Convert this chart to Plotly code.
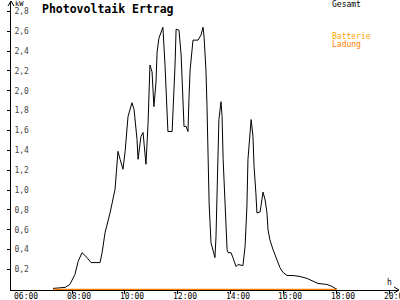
import plotly.graph_objects as go

# Data (hours as decimal, kW values)
gesamt_hours = [7.28, 7.74, 7.92, 8.11, 8.23, 8.38, 8.57, 8.72, 9.06, 9.14, 9.25, 9.44, 9.63,
                9.74, 9.82, 9.93, 10.01, 10.12, 10.27, 10.35, 10.46, 10.50, 10.61, 10.69, 10.73,
                10.80, 10.88, 10.95, 11.03, 11.10, 11.18, 11.22, 11.29, 11.44, 11.52, 11.60,
                11.63, 11.79, 11.82, 11.90, 11.94, 12.05, 12.13, 12.20, 12.24, 12.32, 12.39,
                12.43, 12.47, 12.58, 12.77, 12.88, 12.96, 13.00, 13.07, 13.11, 13.15, 13.19,
                13.26, 13.34, 13.41, 13.45, 13.49, 13.56, 13.64, 13.68, 13.72, 13.79, 13.87,
                13.91, 14.02, 14.09, 14.21, 14.28, 14.47, 14.55, 14.62, 14.66, 14.74, 14.78,
                14.85, 14.89, 14.96, 15.00, 15.12, 15.19, 15.23, 15.31, 15.38, 15.42, 15.49,
                15.61, 15.76, 15.87, 15.99, 16.14, 16.37, 16.63, 16.90, 17.12, 17.31, 17.65,
                17.84, 18.03]
gesamt_kw = [0.01, 0.02, 0.05, 0.15, 0.28, 0.37, 0.32, 0.27, 0.27, 0.37, 0.57, 0.77, 1.01,
             1.39, 1.31, 1.21, 1.39, 1.74, 1.88, 1.81, 1.51, 1.31, 1.54, 1.58, 1.46,
             1.26, 1.68, 2.26, 2.19, 1.84, 2.09, 2.39, 2.53, 2.64, 2.26, 1.86,
             1.59, 1.59, 1.76, 2.26, 2.62, 2.61, 2.36, 1.81, 1.64, 1.64, 1.59,
             1.94, 2.21, 2.51, 2.51, 2.56, 2.64, 2.54, 2.21, 1.84, 1.31, 0.87,
             0.47, 0.40, 0.32, 0.53, 1.04, 1.71, 1.89, 1.74, 1.31, 0.83, 0.40,
             0.37, 0.37, 0.32, 0.23, 0.25, 0.24, 0.43, 0.83, 1.31, 1.61, 1.71,
             1.54, 1.24, 0.97, 0.77, 0.78, 0.93, 0.98, 0.90, 0.77, 0.60, 0.50,
             0.40, 0.30, 0.22, 0.17, 0.14, 0.14, 0.13, 0.11, 0.08, 0.06, 0.05,
             0.03, 0.00]

batterie_hours = [7.28, 18.03]
batterie_kw = [0.0, 0.0]

y_ticks = [0.2, 0.4, 0.6, 0.8, 1.0, 1.2, 1.4, 1.6, 1.8, 2.0, 2.2, 2.4, 2.6, 2.8]
x_ticks = [6, 8, 10, 12, 14, 16, 18, 20]
x_ticklabels = ["06:00", "08:00", "10:00", "12:00", "14:00", "16:00", "18:00", "20:00"]

FONT = "DejaVu Sans Mono"
W, H = 400, 300
L, R, T, B = 11, 2, 2, 10
pw, ph = W - L - R, H - T - B

fig = go.Figure()
fig.add_trace(go.Scatter(x=gesamt_hours, y=gesamt_kw, mode="lines", cliponaxis=False,
                         line=dict(color="black", width=1), hoverinfo="skip"))
fig.add_trace(go.Scatter(x=batterie_hours, y=batterie_kw, mode="lines", cliponaxis=False,
                         line=dict(color="#FF8000", width=1.5), hoverinfo="skip"))

fig.update_layout(
    width=W, height=H,
    margin=dict(l=L, r=R, t=T, b=B, pad=0),
    paper_bgcolor="white", plot_bgcolor="white",
    showlegend=False,
    separators=",.",
    font=dict(family=FONT, size=8, color="black"),
    xaxis=dict(range=[5.691, 20.339], tickvals=x_ticks, ticktext=[""] * len(x_ticks),
               showgrid=False, zeroline=False, showline=True, linecolor="black", linewidth=1,
               ticks="outside", ticklen=3, tickcolor="black", tickwidth=1,
               layer="below traces", automargin=False, fixedrange=True),
    yaxis=dict(range=[-0.006, 2.894], tickvals=y_ticks, tickformat=".1f",
               showgrid=False, zeroline=False, showline=True, linecolor="black", linewidth=1,
               ticks="outside", ticklen=3, tickcolor="black", tickwidth=1,
               ticklabelposition="inside", ticklabelstandoff=2,
               tickfont=dict(family=FONT, size=8),
               layer="below traces", automargin=False, fixedrange=True),
)

def px_x(p):
    return (p - L) / pw

def px_y(p):
    return 1 - (p - T) / ph

# x tick labels (placed at the axis positions, shifted right like the reference)
for v, t in zip(x_ticks, x_ticklabels):
    fig.add_annotation(text=t, xref="x", yref="paper", x=v, y=px_y(296), xshift=7,
                       xanchor="center", yanchor="middle", showarrow=False,
                       font=dict(family=FONT, size=8, color="black"))

# arrowheads on axes
fig.add_shape(type="path", xref="paper", yref="paper",
              path=f"M {px_x(8)} {px_y(6)} L {px_x(11)} {px_y(1)} L {px_x(14)} {px_y(6)}",
              line=dict(color="black", width=1))
fig.add_shape(type="path", xref="paper", yref="paper",
              path=f"M {px_x(394)} {px_y(287)} L {px_x(399)} {px_y(290)} L {px_x(394)} {px_y(293)}",
              line=dict(color="black", width=1))

anns = [
    dict(text="<b>Photovoltaik Ertrag</b>", x=px_x(40), y=px_y(9), size=11.5, color="black"),
    dict(text="kW", x=px_x(13), y=px_y(4), size=7, color="black"),
    dict(text="Gesamt", x=px_x(330), y=px_y(5), size=8, color="black"),
    dict(text="Batterie", x=px_x(330), y=px_y(36), size=8, color="#FFA500"),
    dict(text="Ladung", x=px_x(330), y=px_y(44), size=8, color="#FF8000"),
    dict(text="h", x=px_x(385), y=px_y(282), size=8, color="black"),
]
for a in anns:
    fig.add_annotation(text=a["text"], xref="paper", yref="paper", x=a["x"], y=a["y"],
                       xanchor="left", yanchor="middle", showarrow=False,
                       font=dict(family=FONT, size=a["size"], color=a["color"]))

fig.write_html("out.html")
